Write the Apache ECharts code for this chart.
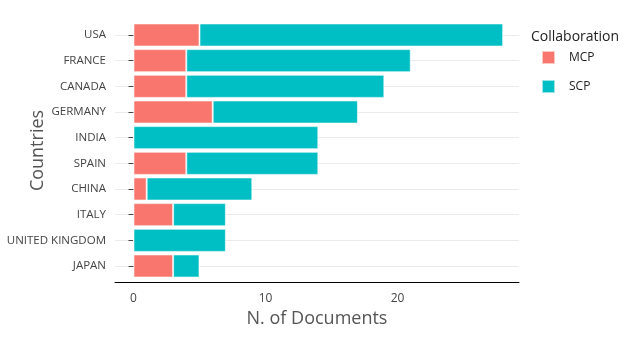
<!DOCTYPE html>
<html><head><meta charset="utf-8">
<script src="https://cdn.jsdelivr.net/npm/echarts@6/dist/echarts.min.js"></script>
<style>html,body{margin:0;padding:0;background:#fff}#c{width:628px;height:347px}</style>
</head><body><div id="c"></div>
<script>
const countries = ["USA","FRANCE","CANADA","GERMANY","INDIA","SPAIN","CHINA","ITALY","UNITED KINGDOM","JAPAN"];
const mcp = [5,4,4,6,0,4,1,3,0,3];
const scp = [23,17,15,11,14,10,8,4,7,2];
const xTicks = [0,10,20];

const font = "'Open Sans', sans-serif";
const chart = echarts.init(document.getElementById('c'), null, {renderer:'canvas'});
const barStyle = (c) => ({color:c, borderColor:'rgba(255,255,255,0.6)', borderWidth:1});
chart.setOption({
  animation:false,
  textStyle:{fontFamily:font},
  title:{text:'Collaboration', left:526, top:25, textStyle:{fontFamily:font, fontSize:14, fontWeight:'normal', color:'#222'}},
  legend:{orient:'vertical', left:536, top:45, itemWidth:13, itemHeight:13, itemGap:14,
    icon:'rect', textStyle:{fontFamily:font, fontSize:12, color:'#222', padding:[0,0,0,9]},
    data:['MCP','SCP']},
  grid:{left:115, right:109, top:35, bottom:81, containLabel:false, outerBoundsMode:'none'},
  xAxis:{type:'value', min:-1.4, max:29.2, offset:16,
    axisLine:{show:true, lineStyle:{color:'#000', width:1}},
    axisTick:{show:false},
    axisLabel:{customValues:xTicks, fontFamily:font, fontSize:12, color:'#444', margin:11},
    splitLine:{show:false},
    name:'N. of Documents', nameLocation:'middle', nameGap:28, nameMoveOverlap:false,
    nameTextStyle:{fontFamily:font, fontSize:18, color:'#555'}},
  yAxis:{type:'category', data:countries, inverse:true, boundaryGap:false, offset:1,
    axisLine:{show:false},
    axisTick:{show:true, length:5, lineStyle:{color:'#444'}},
    axisLabel:{fontFamily:font, fontSize:11.5, color:'#444', margin:8, padding:[2,0,0,0]},
    splitLine:{show:true, lineStyle:{color:'#ebebeb', width:1}},
    name:'Countries', nameLocation:'middle', nameGap:67, nameRotate:90, nameMoveOverlap:false,
    nameTextStyle:{fontFamily:font, fontSize:18, color:'#555'}},
  series:[
    {name:'MCP', type:'bar', stack:'t', data:mcp, clip:false, barCategoryGap:'10%', itemStyle:barStyle('#F8766D')},
    {name:'SCP', type:'bar', stack:'t', data:scp, clip:false, barCategoryGap:'10%', itemStyle:barStyle('#00BFC4')}
  ]
});
</script></body></html>
